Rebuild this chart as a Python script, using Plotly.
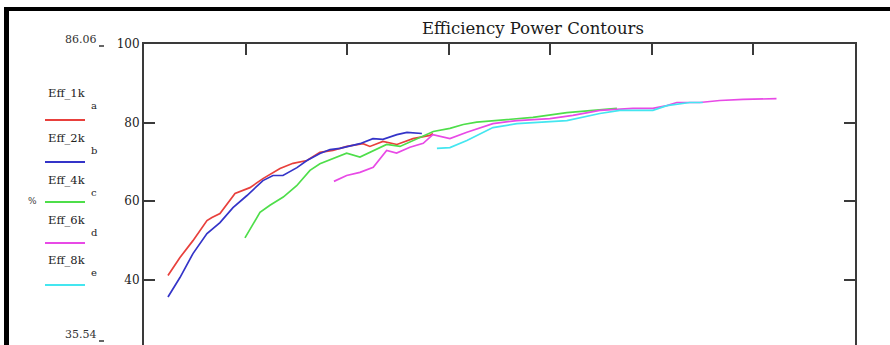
import plotly.graph_objects as go

# ---------------- data (power in kW, efficiency in %) ----------------
eff_1k_x = [0.236, 0.354, 0.482, 0.620, 0.669, 0.748, 0.896, 1.043, 1.171, 1.339, 1.467, 1.604, 1.732,
            1.860, 1.998, 2.156, 2.224, 2.352, 2.490, 2.648, 2.815, 2.844]
eff_1k_y = [41.0, 45.6, 49.9, 55.0, 55.8, 56.8, 61.9, 63.4, 65.7, 68.3, 69.6, 70.3, 72.4,
            72.9, 73.9, 74.6, 73.9, 75.2, 74.4, 75.9, 76.7, 77.2]

eff_2k_x = [0.236, 0.354, 0.482, 0.620, 0.748, 0.876, 1.014, 1.171, 1.270, 1.368, 1.506, 1.604, 1.732,
            1.831, 1.929, 2.126, 2.254, 2.352, 2.490, 2.589, 2.736]
eff_2k_y = [35.54, 40.5, 46.6, 51.7, 54.5, 58.3, 61.4, 65.2, 66.5, 66.5, 68.5, 70.3, 72.1,
            73.1, 73.4, 74.6, 75.9, 75.7, 76.9, 77.5, 77.2]

eff_4k_x = [0.994, 1.076, 1.142, 1.240, 1.371, 1.503, 1.634, 1.732, 1.863, 1.995, 2.126, 2.257, 2.389,
            2.520, 2.651, 2.848, 3.012, 3.143, 3.275, 3.471, 3.829, 4.163, 4.488, 4.656]
eff_4k_y = [50.6, 54.2, 57.1, 58.9, 61.0, 63.9, 67.8, 69.5, 70.8, 72.2, 71.2, 72.9, 74.4,
            73.9, 75.4, 77.7, 78.5, 79.5, 80.1, 80.5, 81.3, 82.5, 83.3, 83.6]

eff_6k_x = [1.870, 1.995, 2.126, 2.257, 2.389, 2.487, 2.618, 2.749, 2.844, 3.012, 3.179, 3.435, 3.671,
            3.996, 4.222, 4.488, 4.813, 5.010, 5.148, 5.246, 5.472, 5.669, 5.899, 6.227]
eff_6k_y = [65.0, 66.5, 67.3, 68.6, 72.9, 72.2, 73.7, 74.7, 76.9, 75.9, 77.5, 79.7, 80.5,
            81.0, 81.8, 83.1, 83.6, 83.6, 84.3, 85.1, 85.1, 85.6, 85.9, 86.06]

eff_8k_x = [2.884, 3.012, 3.179, 3.435, 3.671, 3.996, 4.163, 4.488, 4.685, 5.010, 5.148, 5.374, 5.502]
eff_8k_y = [73.4, 73.6, 75.4, 78.7, 79.7, 80.3, 80.5, 82.3, 83.1, 83.1, 84.3, 85.1, 85.1]

series_names = ["Eff_1k", "Eff_2k", "Eff_4k", "Eff_6k", "Eff_8k"]
series_subs = ["a", "b", "c", "d", "e"]
series_colors = ["#e8403c", "#3434c8", "#4ede4a", "#e84ae6", "#44e6f0"]
series_x = [eff_1k_x, eff_2k_x, eff_4k_x, eff_6k_x, eff_8k_x]
series_y = [eff_1k_y, eff_2k_y, eff_4k_y, eff_6k_y, eff_8k_y]

y_ticks = [40, 60, 80, 100]
x_ticks = [1, 2, 3, 4, 5, 6]
data_max_label = "86.06"
data_min_label = "35.54"
title_text = "Efficiency Power Contours"

# ---------------- layout geometry ----------------
W, H = 890, 345
L, R, T, B = 144, 35, 44, 0
PW, PH = W - L - R, H - T - B


def px(xp):
    return (xp - L) / PW


def py(yp):
    return (H - B - yp) / PH


fig = go.Figure()
for name, xs, ys, col in zip(series_names, series_x, series_y, series_colors):
    fig.add_trace(go.Scatter(x=xs, y=ys, mode="lines", name=name,
                             line=dict(color=col, width=1.7), showlegend=False))

serif = "DejaVu Serif"
annotations = []
shapes = []

# title
annotations.append(dict(text=title_text, x=px(533), y=py(28), xref="paper", yref="paper",
                        xanchor="center", yanchor="middle", showarrow=False,
                        font=dict(family=serif, size=16.5, color="#1a1a1a")))

# legend on the left
label_y = [93, 138, 180, 220, 260]
line_y = [120, 162, 202, 243, 285]
for i, (name, sub, col) in enumerate(zip(series_names, series_subs, series_colors)):
    annotations.append(dict(text=name, x=px(46), y=py(label_y[i]), xref="paper", yref="paper",
                            xanchor="left", yanchor="middle", showarrow=False,
                            font=dict(family=serif, size=11.5, color="#222")))
    annotations.append(dict(text=sub, x=px(89), y=py(label_y[i] + 12), xref="paper", yref="paper",
                            xanchor="left", yanchor="middle", showarrow=False,
                            font=dict(family=serif, size=10, color="#222")))
    shapes.append(dict(type="line", xref="paper", yref="paper", x0=px(45), x1=px(85),
                       y0=py(line_y[i]), y1=py(line_y[i]), line=dict(color=col, width=2)))

# % axis label
annotations.append(dict(text="%", x=px(32), y=py(201), xref="paper", yref="paper",
                        xanchor="center", yanchor="middle", showarrow=False,
                        font=dict(family=serif, size=9, color="#333")))

# data max / min labels
annotations.append(dict(text=data_max_label, x=px(99), y=py(40), xref="paper", yref="paper",
                        xanchor="right", yanchor="middle", showarrow=False,
                        font=dict(family=serif, size=11, color="#333")))
annotations.append(dict(text=data_min_label, x=px(99), y=py(334), xref="paper", yref="paper",
                        xanchor="right", yanchor="middle", showarrow=False,
                        font=dict(family=serif, size=11, color="#333")))
for yy in (46, 341):
    shapes.append(dict(type="line", xref="paper", yref="paper", x0=px(99), x1=px(104),
                       y0=py(yy), y1=py(yy), line=dict(color="#333", width=1.5)))

# outer black frame (top and left)
shapes.append(dict(type="line", xref="paper", yref="paper", x0=px(4), x1=px(890),
                   y0=py(9), y1=py(9), line=dict(color="#000", width=4)))
shapes.append(dict(type="line", xref="paper", yref="paper", x0=px(6.5), x1=px(6.5),
                   y0=py(7), y1=py(345), line=dict(color="#000", width=5)))

fig.update_layout(
    width=W, height=H,
    margin=dict(l=L, r=R, t=T, b=B, pad=0),
    paper_bgcolor="white", plot_bgcolor="white",
    annotations=annotations, shapes=shapes,
    xaxis=dict(range=[0, 7], side="top", showline=True, linecolor="#3a3a3a", linewidth=2,
               ticks="inside", ticklen=11, tickwidth=2, tickcolor="#3a3a3a",
               tickvals=x_ticks, showticklabels=False, showgrid=False, zeroline=False,
               mirror=False, fixedrange=True),
    yaxis=dict(range=[100 - (H - B - T) / 3.925, 100], showline=True, linecolor="#3a3a3a", linewidth=2,
               ticks="inside", ticklen=11, tickwidth=2, tickcolor="#3a3a3a",
               tickvals=y_ticks, ticktext=[str(v) for v in y_ticks],
               tickfont=dict(family=serif, size=12, color="#222"),
               showgrid=False, zeroline=False, mirror="ticks", fixedrange=True),
)

fig.write_html("out.html", config={"displayModeBar": False},
               post_script="document.body.style.margin='0';document.body.style.overflow='hidden';")
